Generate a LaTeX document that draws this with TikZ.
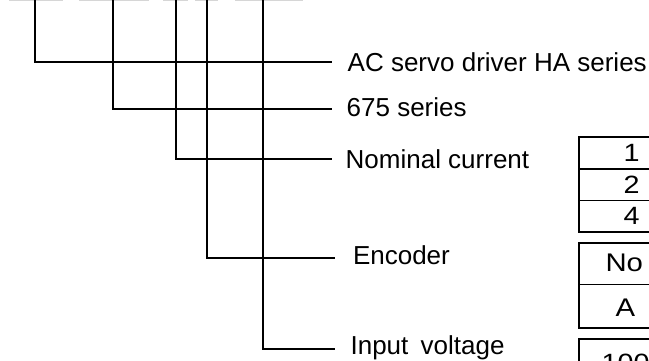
\documentclass[tikz,border=0pt]{standalone}
\usepackage{fontspec}
\setmainfont{Liberation Sans}
\newfontfamily\tabfont{Liberation Sans}[FakeStretch=1.15]
\begin{document}
\begin{tikzpicture}[x=1pt,y=-1pt,
  conn/.style={line width=1.8pt,black},
  lbl/.style={anchor=west,inner sep=0pt,outer sep=0pt,text height=18.6pt,text depth=0pt,font=\fontsize{26}{30}\selectfont},
  cellbox/.style={draw,line width=1.8pt,rectangle,anchor=north west,inner sep=0pt,outer sep=0pt,minimum width=104.4pt},
  numtxt/.style={font=\tabfont\fontsize{25}{29}\selectfont},
  lettxt/.style={font=\tabfont\fontsize{25.5}{29}\selectfont},
  topbar/.style={line width=1.6pt,black!16}]
\useasboundingbox (0,0) rectangle (649,361);
\clip (0,0) rectangle (649,361);
% faint remains of the code boxes at the top edge
\draw[topbar] (9,0.6) -- (63.3,0.6);
\draw[topbar] (79,0.6) -- (149,0.6);
\draw[topbar] (163.3,0.6) -- (187.7,0.6);
\draw[topbar] (195,0.6) -- (217.7,0.6);
\draw[topbar] (235,0.6) -- (303.3,0.6);
% top ends of the connectors
\coordinate (t1) at (35,-2);
\coordinate (t2) at (113.3,-2);
\coordinate (t3) at (175.7,-2);
\coordinate (t4) at (207.3,-2);
\coordinate (t5) at (263.3,-2);
% labels
\node[lbl] (L1) at (347.7,62.3) {AC servo driver HA series};
\node[lbl] (L2) at (346.7,107.5) {675 series};
\node[lbl] (L3) at (345.7,158.7) {Nominal current};
\node[lbl] (L4) at (353,255.6) {Encoder};
\node[lbl] (L5) at (350.6,345.2) {Input\hspace{5pt} voltage};
% connectors
\draw[conn] (t1) |- ([xshift=-16pt]L1.west);
\draw[conn] (t2) |- ([xshift=-15pt,yshift=-1.5pt]L2.west);
\draw[conn] (t3) |- ([xshift=-14pt]L3.west);
\draw[conn] (t4) |- ([xshift=-18pt,yshift=-2.7pt]L4.west);
\draw[conn] (t5) |- ([xshift=-15.6pt,yshift=-3.8pt]L5.west);
% table: nominal current
\node[cellbox,minimum height=31.6pt,numtxt] (c1) at (579.3,137.3) {1};
\node[cellbox,minimum height=31.6pt,numtxt] (c2) at (579.3,168.9) {2};
\node[cellbox,minimum height=31.6pt,numtxt] (c4) at (579.3,200.5) {4};
% table: encoder
\node[cellbox,minimum height=41.2pt] (eNo) at (579.3,243.3) {};
\node[cellbox,minimum height=43.8pt] (eA) at (579.3,284.5) {};
\node[lettxt,anchor=west,inner sep=0pt] (tNo) at (605.3,263.3) {No};
\node[lettxt,inner sep=0pt] (tA) at (625.3,307.5) {A};
% table: input voltage
\node[cellbox,minimum height=40pt] (v1) at (579.3,339) {};
\node[numtxt,anchor=base west,inner sep=0pt] (t100) at (601.5,371) {100};
\end{tikzpicture}
\end{document}
